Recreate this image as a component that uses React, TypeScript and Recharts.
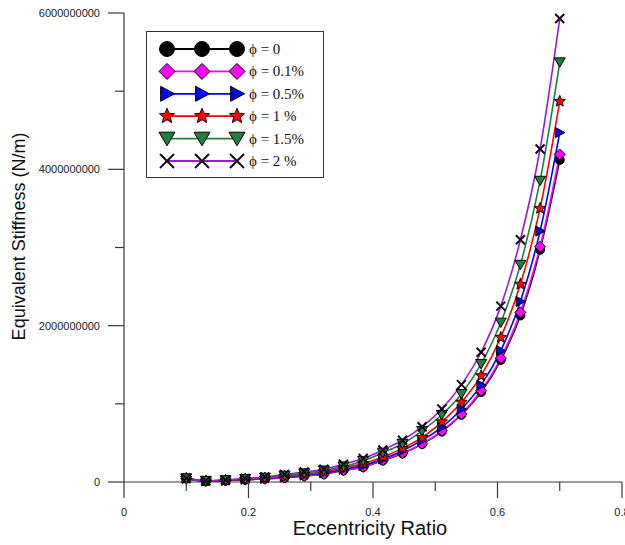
import React from 'react';
import { LineChart, Line, XAxis, YAxis, Legend } from 'recharts';

const eccentricity = [0.1, 0.1316, 0.1632, 0.1947, 0.2263, 0.2579, 0.2895, 0.3211, 0.3526, 0.3842, 0.4158, 0.4474, 0.4789, 0.5105, 0.5421, 0.5737, 0.6053, 0.6368, 0.6684, 0.7];

const phi0 = [4.5e7, 1.2e7, 1.8e7, 3.0e7, 4.0e7, 5.5e7, 7.7e7, 1.0e8, 1.48e8, 1.9e8, 2.75e8, 3.65e8, 4.85e8, 6.45e8, 8.6e8, 1.15e9, 1.56e9, 2.13e9, 2.97e9, 4.12e9];
const phi01 = [4.5e7, 1.2e7, 1.8e7, 3.0e7, 4.0e7, 5.6e7, 7.8e7, 1.02e8, 1.5e8, 1.93e8, 2.8e8, 3.7e8, 4.9e8, 6.55e8, 8.7e8, 1.17e9, 1.585e9, 2.17e9, 3.01e9, 4.19e9];
const phi05 = [4.6e7, 1.3e7, 2.0e7, 3.3e7, 4.5e7, 6.3e7, 8.8e7, 1.18e8, 1.62e8, 2.1e8, 2.95e8, 4.0e8, 5.35e8, 7.0e8, 9.34e8, 1.24e9, 1.68e9, 2.31e9, 3.21e9, 4.47e9];
const phi1 = [4.7e7, 1.4e7, 2.2e7, 3.6e7, 5.0e7, 7.2e7, 9.8e7, 1.3e8, 1.8e8, 2.35e8, 3.2e8, 4.3e8, 5.7e8, 7.7e8, 1.02e9, 1.36e9, 1.85e9, 2.53e9, 3.5e9, 4.87e9];
const phi15 = [4.8e7, 1.5e7, 2.4e7, 4.0e7, 5.6e7, 8.2e7, 1.12e8, 1.48e8, 2.0e8, 2.7e8, 3.76e8, 4.9e8, 6.55e8, 8.6e8, 1.127e9, 1.51e9, 2.04e9, 2.78e9, 3.855e9, 5.37e9];
const phi2 = [5.0e7, 1.6e7, 2.6e7, 4.5e7, 6.5e7, 9.5e7, 1.28e8, 1.63e8, 2.27e8, 3.0e8, 4.1e8, 5.35e8, 7.07e8, 9.34e8, 1.246e9, 1.66e9, 2.25e9, 3.1e9, 4.26e9, 5.93e9];

const xTicks = [0, 0.1, 0.2, 0.3, 0.4, 0.5, 0.6, 0.7, 0.8];
const xTickLabels = ['0', '', '0.2', '', '0.4', '', '0.6', '', '0.8'];
const yTicks = [0, 1e9, 2e9, 3e9, 4e9, 5e9, 6e9];
const yTickLabels = ['0', '', '2000000000', '', '4000000000', '', '6000000000'];

const seriesNames = ['ϕ = 0', 'ϕ = 0.1%', 'ϕ = 0.5%', 'ϕ = 1 %', 'ϕ = 1.5%', 'ϕ = 2 %'];
const seriesKeys = ['p0', 'p01', 'p05', 'p1', 'p15', 'p2'];
const seriesValues = [phi0, phi01, phi05, phi1, phi15, phi2];

const seriesStyle = [
  { line: '#000000', fill: '#000000', stroke: '#000000', shape: 'circle' },
  { line: '#FF00FF', fill: '#FF00FF', stroke: '#000000', shape: 'diamond' },
  { line: '#0000FF', fill: '#0000FF', stroke: '#000000', shape: 'triRight' },
  { line: '#FF0000', fill: '#FF0000', stroke: '#000000', shape: 'star' },
  { line: '#1E7F3E', fill: '#1E7F3E', stroke: '#000000', shape: 'triDown' },
  { line: '#9A1AD6', fill: 'none', stroke: '#1A0420', shape: 'cross' },
];

const data = eccentricity.map((x, i) => {
  const row: any = { x };
  seriesKeys.forEach((k, j) => { row[k] = seriesValues[j][i]; });
  return row;
});

const FONT = "Arial, 'Liberation Sans', sans-serif";

function marker(shape: string, cx: number, cy: number, s: number, fill: string, stroke: string, key?: any) {
  if (shape === 'circle') {
    return <circle key={key} cx={cx} cy={cy} r={s} fill={fill} stroke={stroke} strokeWidth={1} />;
  }
  if (shape === 'diamond') {
    const p = `${cx},${cy - s} ${cx + s},${cy} ${cx},${cy + s} ${cx - s},${cy}`;
    return <polygon key={key} points={p} fill={fill} stroke={stroke} strokeWidth={1} />;
  }
  if (shape === 'triRight') {
    const p = `${cx - s * 0.85},${cy - s} ${cx + s},${cy} ${cx - s * 0.85},${cy + s}`;
    return <polygon key={key} points={p} fill={fill} stroke={stroke} strokeWidth={1} />;
  }
  if (shape === 'triDown') {
    const p = `${cx - s},${cy - s * 0.8} ${cx + s},${cy - s * 0.8} ${cx},${cy + s * 0.9}`;
    return <polygon key={key} points={p} fill={fill} stroke={stroke} strokeWidth={1} />;
  }
  if (shape === 'star') {
    const pts: string[] = [];
    for (let k = 0; k < 10; k++) {
      const r = k % 2 === 0 ? s : s * 0.45;
      const a = -Math.PI / 2 + (k * Math.PI) / 5;
      pts.push(`${cx + r * Math.cos(a)},${cy + r * Math.sin(a)}`);
    }
    return <polygon key={key} points={pts.join(' ')} fill={fill} stroke={stroke} strokeWidth={0.9} />;
  }
  return (
    <g key={key}>
      <line x1={cx - s} y1={cy - s} x2={cx + s} y2={cy + s} stroke={stroke} strokeWidth={2} />
      <line x1={cx - s} y1={cy + s} x2={cx + s} y2={cy - s} stroke={stroke} strokeWidth={2} />
    </g>
  );
}

const plotSizes: Record<string, number> = { circle: 4.5, diamond: 5.5, triRight: 5, star: 6, triDown: 5.5, cross: 4.5 };
const legendSizes: Record<string, number> = { circle: 7.5, diamond: 8, triRight: 7.5, star: 8, triDown: 8, cross: 7 };

const XTick = (props: any) => {
  const { x, y, payload } = props;
  const v = payload.value;
  const major = Math.abs(v / 0.2 - Math.round(v / 0.2)) < 1e-6;
  return (
    <g>
      <line x1={x} y1={y} x2={x} y2={y + (major ? 16 : 9)} stroke="#3a3a3a" strokeWidth={1.2} />
      {major && (
        <text x={x} y={y + 34} textAnchor="middle" fontFamily={FONT} fontSize={11} fill="#222">
          {xTickLabels[xTicks.indexOf(v)] ?? String(v)}
        </text>
      )}
    </g>
  );
};

const YTick = (props: any) => {
  const { x, y, payload } = props;
  const v = payload.value;
  const idx = yTicks.indexOf(v);
  const label = yTickLabels[idx];
  const major = label !== '';
  return (
    <g>
      <line x1={x - (major ? 16 : 9)} y1={y} x2={x} y2={y} stroke="#3a3a3a" strokeWidth={1.2} />
      {major && (
        <text x={x - 24} y={y + 4} textAnchor="end" fontFamily={FONT} fontSize={11} fill="#222">
          {label}
        </text>
      )}
    </g>
  );
};

const LegendBox = () => {
  const rowY = (i: number) => 18 + i * 22.4;
  return (
    <svg width={178} height={147} style={{ display: 'block' }}>
      <rect x={0.5} y={0.5} width={177} height={146} fill="#fff" stroke="#333" strokeWidth={1} />
      {seriesNames.map((name, i) => {
        const st = seriesStyle[i];
        const y = rowY(i);
        const s = legendSizes[st.shape];
        return (
          <g key={name}>
            <line x1={21} y1={y} x2={91} y2={y} stroke={st.line} strokeWidth={1.8} />
            {[21, 56, 91].map((mx, k) => marker(st.shape, mx, y, s, st.fill, st.stroke, k))}
            <text x={103} y={y + 5} fontFamily="'Liberation Serif', 'Times New Roman', serif" fontSize={15} fill="#111">
              {name}
            </text>
          </g>
        );
      })}
    </svg>
  );
};

export default function App() {
  return (
    <div style={{ position: 'absolute', left: 0, top: 0, background: '#fff' }}>
      <LineChart width={625} height={545} data={data} margin={{ top: 13, right: 3, left: 0, bottom: 0 }}>
        <XAxis
          dataKey="x"
          type="number"
          domain={[0, 0.8]}
          ticks={xTicks}
          interval={0}
          tickSize={0}
          tickMargin={0}
          tickLine={false}
          tick={<XTick />}
          height={63}
          stroke="#3a3a3a"
          axisLine={{ stroke: '#3a3a3a', strokeWidth: 1.2 }}
          label={{
            content: (p: any) => {
              const vb = p.viewBox;
              return (
                <text x={vb.x + vb.width / 2 - 3} y={535} textAnchor="middle" fontFamily={FONT} fontSize={20} fill="#111">
                  Eccentricity Ratio
                </text>
              );
            },
          }}
        />
        <XAxis
          xAxisId="top"
          orientation="top"
          type="number"
          domain={[0, 0.8]}
          height={0}
          tick={false}
          tickLine={false}
          axisLine={{ stroke: '#3a3a3a', strokeWidth: 1.2 }}
        />
        <YAxis
          type="number"
          domain={[0, 6e9]}
          ticks={yTicks}
          interval={0}
          tickSize={0}
          tickMargin={0}
          tickLine={false}
          tick={<YTick />}
          width={124}
          axisLine={{ stroke: '#3a3a3a', strokeWidth: 1.2 }}
          label={{
            content: (p: any) => {
              const vb = p.viewBox;
              const cy = vb.y + vb.height / 2 - 11;
              return (
                <text x={19} y={cy} transform={`rotate(-90, 19, ${cy})`} textAnchor="middle" dominantBaseline="central" fontFamily={FONT} fontSize={18} fill="#111">
                  Equivalent Stiffness (N/m)
                </text>
              );
            },
          }}
        />
        <YAxis
          yAxisId="right"
          orientation="right"
          type="number"
          domain={[0, 6e9]}
          width={0}
          tick={false}
          tickLine={false}
          axisLine={{ stroke: '#3a3a3a', strokeWidth: 1.2 }}
        />
        <Legend
          layout="vertical"
          align="center"
          verticalAlign="middle"
          wrapperStyle={{ position: 'absolute', left: 146, top: 31, width: 178, height: 147 }}
          content={() => <LegendBox />}
        />
        {seriesKeys.map((k, i) => {
          const st = seriesStyle[i];
          return (
            <Line
              key={k}
              dataKey={k}
              name={seriesNames[i]}
              type="monotone"
              stroke={st.line}
              strokeWidth={1.6}
              isAnimationActive={false}
              activeDot={false}
              dot={(p: any) => marker(st.shape, p.cx, p.cy, plotSizes[st.shape], st.fill, st.stroke, `${k}-${p.index}`)}
            />
          );
        })}
      </LineChart>
    </div>
  );
}
